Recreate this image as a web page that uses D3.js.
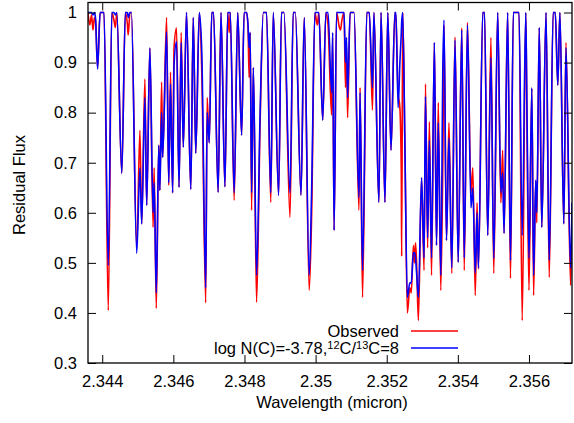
<!DOCTYPE html>
<html><head><meta charset="utf-8">
<script src="https://cdn.jsdelivr.net/npm/d3@7"></script>
<style>
html,body{margin:0;padding:0;background:#fff;}
svg text{font-family:"Liberation Sans",Arial,Helvetica,sans-serif;}
</style></head>
<body>
<svg id="chart" width="574" height="423"></svg>
<script>
// Wavelength (micron) vertices
const wavelength = [
2.34360,2.34365,2.34370,2.34374,2.34378,2.34381,2.34387,2.34394,2.34405,2.34417,
2.34427,2.34433,2.34437,2.34441,2.34455,2.34465,2.34471,2.34473,2.34478,2.34482,
2.34497,2.34506,2.34511,2.34520,2.34525,2.34534,2.34543,2.34546,2.34552,2.34559,
2.34562,2.34567,2.34570,2.34581,2.34587,2.34592,2.34598,2.34602,2.34609,2.34616,
2.34622,2.34628,2.34637,2.34649,2.34656,2.34663,2.34673,2.34680,2.34691,2.34695,
2.34701,2.34708,2.34713,2.34726,2.34734,2.34745,2.34753,2.34757,2.34760,2.34771,
2.34781,2.34792,2.34799,2.34806,2.34810,2.34813,2.34816,2.34820,2.34825,2.34834,
2.34844,2.34853,2.34862,2.34874,2.34881,2.34896,2.34904,2.34911,2.34928,2.34937,
2.34943,2.34959,2.34968,2.34982,2.34989,2.34998,2.35005,2.35009,2.35020,2.35029,
2.35035,2.35045,2.35048,2.35052,2.35059,2.35067,2.35070,2.35074,2.35080,2.35084,
2.35087,2.35090,2.35097,2.35108,2.35122,2.35125,2.35132,2.35144,2.35151,2.35160,
2.35164,2.35178,2.35184,2.35195,2.35203,2.35212,2.35223,2.35226,2.35232,2.35237,
2.35241,2.35242,2.35245,2.35251,2.35258,2.35265,2.35269,2.35275,2.35278,2.35281,
2.35284,2.35289,2.35298,2.35305,2.35309,2.35315,2.35320,2.35326,2.35334,2.35340,
2.35345,2.35352,2.35358,2.35361,2.35368,2.35375,2.35383,2.35392,2.35401,2.35411,
2.35418,2.35427,2.35437,2.35442,2.35449,2.35454,2.35458,2.35470,2.35475,2.35484,
2.35493,2.35501,2.35512,2.35521,2.35526,2.35530,2.35540,2.35548,2.35556,2.35572,
2.35581,2.35591,2.35594,2.35600,2.35608,2.35613,2.35619,2.35622,2.35629,2.35636,
2.35648,2.35657,2.35668,2.35674,2.35681,2.35687,2.35698,2.35704,2.35717,2.35721];

const observed = [
1.0,0.975,0.995,0.965,0.99,0.985,0.89,1.0,1.0,0.405,
1.0,0.985,0.97,1.0,0.679,1.0,0.975,0.955,1.0,1.0,
0.53,0.765,0.578,0.867,0.615,0.929,0.571,0.69,0.409,0.735,
0.645,0.861,0.711,0.99,0.655,0.881,0.64,0.93,0.969,0.651,
0.96,0.731,1.0,0.647,0.99,0.719,1.0,0.88,0.42,0.83,
0.74,1.0,1.0,0.641,1.0,0.652,1.0,0.96,1.0,0.625,
1.0,0.755,1.0,1.0,0.97,0.87,0.96,0.605,0.89,0.421,
0.78,1.0,1.0,0.621,1.0,0.635,1.0,1.0,0.591,1.0,
1.0,0.635,0.99,0.445,0.60,1.0,0.975,1.0,0.785,1.0,
0.975,0.795,0.95,0.565,1.0,0.97,0.965,0.985,1.0,0.85,
0.93,0.79,1.0,1.0,0.605,0.85,0.431,1.0,1.0,0.805,
1.0,0.621,1.0,0.621,1.0,0.725,1.0,0.985,0.84,0.81,
0.68,0.513,1.0,0.74,0.40,0.45,0.44,0.535,0.50,0.54,
0.50,0.385,0.67,0.485,0.857,0.53,0.782,0.475,0.94,0.535,
0.82,0.445,0.72,0.975,0.545,0.78,0.479,0.951,0.501,0.969,
0.485,0.98,0.64,0.69,0.435,0.62,0.488,1.0,1.0,0.555,
0.95,0.479,1.0,0.62,0.725,0.559,1.0,0.469,1.0,1.0,
0.385,1.0,0.80,0.445,0.849,0.435,0.665,0.58,0.97,0.571,
1.0,0.471,1.0,1.0,0.855,1.0,0.578,0.94,0.455,0.59];

const model = [
1.0,1.0,1.0,0.995,1.0,0.99,0.887,1.0,1.0,0.495,
1.0,1.0,0.995,1.0,0.679,1.0,1.0,0.99,1.0,1.0,
0.519,0.69,0.578,0.83,0.615,0.929,0.60,0.66,0.44,0.735,
0.645,0.80,0.711,0.962,0.66,0.857,0.64,0.895,0.942,0.651,
0.94,0.731,1.0,0.647,0.99,0.719,1.0,0.92,0.45,0.80,
0.74,1.0,1.0,0.641,1.0,0.652,1.0,1.0,1.0,0.64,
1.0,0.755,1.0,1.0,0.975,0.93,0.96,0.64,0.89,0.475,
0.80,1.0,1.0,0.64,1.0,0.635,1.0,1.0,0.64,1.0,
1.0,0.635,0.99,0.475,0.65,1.0,1.0,1.0,0.785,1.0,
1.0,0.84,0.96,0.565,1.0,1.0,1.0,1.0,1.0,0.90,
0.95,0.83,1.0,1.0,0.63,0.84,0.485,1.0,1.0,0.85,
1.0,0.621,1.0,0.621,1.0,0.725,1.0,1.0,0.81,0.90,
0.96,0.98,1.0,0.74,0.431,0.46,0.46,0.52,0.52,0.51,
0.48,0.431,0.67,0.51,0.832,0.55,0.745,0.51,0.94,0.535,
0.78,0.475,0.90,0.985,0.545,0.75,0.49,0.945,0.501,0.965,
0.51,0.975,0.61,0.65,0.48,0.60,0.49,1.0,1.0,0.555,
0.91,0.509,1.0,0.64,0.68,0.559,1.0,0.505,1.0,1.0,
0.555,1.0,0.83,0.509,0.849,0.475,0.665,0.60,0.97,0.571,
1.0,0.505,1.0,1.0,0.855,1.0,0.578,0.93,0.49,0.62];

const xTicks = [2.344,2.346,2.348,2.350,2.352,2.354,2.356];
const xTickLabels = ["2.344","2.346","2.348","2.35","2.352","2.354","2.356"];
const yTicks = [0.3,0.4,0.5,0.6,0.7,0.8,0.9,1.0];
const yTickLabels = ["0.3","0.4","0.5","0.6","0.7","0.8","0.9","1"];
const seriesNames = ["Observed","log N(C)=-3.78,"];

const L=88,R=572,T=2.5,B=363;
const svg=d3.select("#chart");
const x=d3.scaleLinear().domain([2.34360,2.35721]).range([L,R]);
const y=d3.scaleLinear().domain([0.3,1.02]).range([B,T]);
const FS="16.5px";

svg.append("defs").append("clipPath").attr("id","clip")
  .append("rect").attr("x",L).attr("y",T).attr("width",R-L).attr("height",B-T);

const line=(vals)=>d3.line().x((d,i)=>x(wavelength[i])).y(d=>y(d)).curve(d3.curveMonotoneX)(vals);
const g=svg.append("g").attr("clip-path","url(#clip)");
g.append("path").attr("d",line(observed)).attr("fill","none").attr("stroke","#ff0000").attr("stroke-width",1.6).attr("stroke-linejoin","round");
g.append("path").attr("d",line(model)).attr("fill","none").attr("stroke","#0000ff").attr("stroke-width",1.6).attr("stroke-linejoin","round");

// axes (gnuplot style: inward ticks on all sides)
const axB=d3.axisBottom(x).tickValues(xTicks).tickFormat((d,i)=>xTickLabels[i]).tickSizeInner(-8).tickSizeOuter(0).tickPadding(12);
const axT=d3.axisTop(x).tickValues(xTicks).tickFormat("").tickSizeInner(-8).tickSizeOuter(0);
const axL=d3.axisLeft(y).tickValues(yTicks).tickFormat((d,i)=>yTickLabels[i]).tickSizeInner(-8).tickSizeOuter(0).tickPadding(11);
const axR=d3.axisRight(y).tickValues(yTicks).tickFormat("").tickSizeInner(-8).tickSizeOuter(0);
function style(sel){sel.select(".domain").remove();sel.selectAll("line").attr("stroke","#000").attr("stroke-width",1);sel.selectAll("text").attr("font-size",FS).attr("fill","#000").style("font-family","'Liberation Sans',Arial,sans-serif");}
svg.append("g").attr("transform",`translate(0,${B})`).call(axB).call(style);
svg.append("g").attr("transform",`translate(0,${T})`).call(axT).call(style);
svg.append("g").attr("transform",`translate(${L},0)`).call(axL).call(style);
svg.append("g").attr("transform",`translate(${R},0)`).call(axR).call(style);
svg.append("rect").attr("x",L).attr("y",T).attr("width",R-L).attr("height",B-T).attr("fill","none").attr("stroke","#000").attr("stroke-width",1.3);

// axis titles
svg.append("text").attr("x",332).attr("y",408).attr("text-anchor","middle").attr("font-size",FS).text("Wavelength (micron)");
svg.append("text").attr("transform","translate(25,185) rotate(-90)").attr("text-anchor","middle").attr("font-size",FS).text("Residual Flux");

// legend
svg.append("text").attr("x",399).attr("y",336.5).attr("text-anchor","end").attr("font-size",FS).text(seriesNames[0]);
svg.append("line").attr("x1",411).attr("x2",458).attr("y1",331).attr("y2",331).attr("stroke","#ff0000").attr("stroke-width",1.6);
const t2=svg.append("text").attr("x",399).attr("y",353.5).attr("text-anchor","end").attr("font-size",FS);
t2.append("tspan").text(seriesNames[1]);
t2.append("tspan").attr("dy",-5).attr("font-size","11px").text("12");
t2.append("tspan").attr("dy",5).text("C/");
t2.append("tspan").attr("dy",-5).attr("font-size","11px").text("13");
t2.append("tspan").attr("dy",5).text("C=8");
svg.append("line").attr("x1",411).attr("x2",458).attr("y1",348).attr("y2",348).attr("stroke","#0000ff").attr("stroke-width",1.6);
</script>
</body></html>
